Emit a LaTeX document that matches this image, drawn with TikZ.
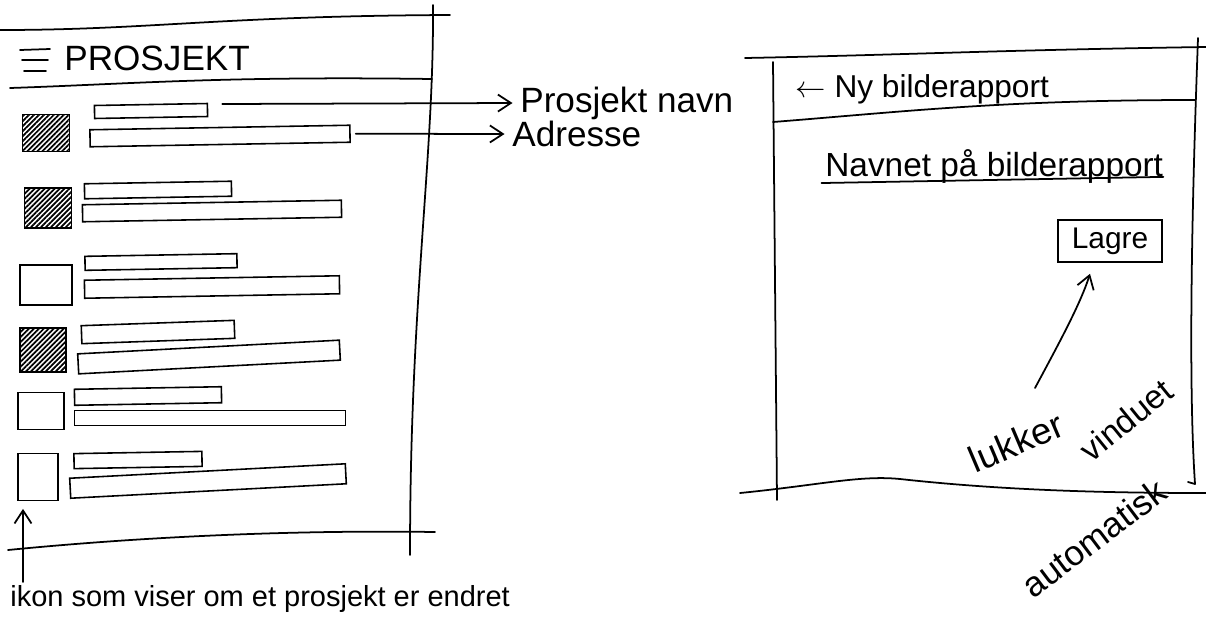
\documentclass[tikz,border=0pt]{standalone}
\usepackage{fontspec}
\setmainfont{Liberation Sans}
\usetikzlibrary{arrows.meta,patterns.meta,calc}

\tikzset{
  strek/.style={line width=1pt, line cap=round, line join=round},
  ikon/.style={draw, line width=1pt, inner sep=0pt},
  fylt/.style={ikon, pattern={Lines[angle=45,distance=2pt,line width=1pt]}},
  felt/.style={draw, line width=0.9pt, inner sep=0pt},
  skrift/.style={inner sep=0pt, font=\fontsize{20}{22}\selectfont},
  pil/.style={strek, -{Straight Barb[length=2.6mm,width=3.4mm]}}
}

\begin{document}
\begin{tikzpicture}[x=0.02cm, y=-0.02cm]
  \useasboundingbox (0,0) rectangle (1206,616);

  %venstre skjerm
  \draw[strek] (0,30) .. controls (150,30) and (220,16) .. (450,15);
  \draw[strek] (10,88) .. controls (130,84) and (220,76) .. (432,79);
  \draw[strek] (433,5) .. controls (434,160) and (410,300) .. (410,555);
  \draw[strek] (8,550) .. controls (150,536) and (300,530) .. (435,532);
  \draw[strek] (20,50) -- (50,49) (22,60) -- (48,60) (24,71) -- (46,71);
  \node[skrift, anchor=base west] (prosjekt) at (64,70) {PROSJEKT};

  %rad 1
  \node[fylt, minimum width=0.94cm, minimum height=0.74cm] (ikon1) at (46,133) {};
  \node[felt, minimum width=2.26cm, minimum height=0.26cm, rotate=1] (kort1) at (151,111) {};
  \node[felt, minimum width=5.2cm, minimum height=0.34cm, rotate=1] (lang1) at (220,136) {};
  %rad 2
  \node[fylt, minimum width=0.94cm, minimum height=0.8cm] (ikon2) at (48,208) {};
  \node[felt, minimum width=2.94cm, minimum height=0.3cm, rotate=1] (kort2) at (158,190) {};
  \node[felt, minimum width=5.18cm, minimum height=0.34cm, rotate=1] (lang2) at (212,211) {};
  %rad 3
  \node[ikon, minimum width=1.04cm, minimum height=0.8cm] (ikon3) at (46,285) {};
  \node[felt, minimum width=3.04cm, minimum height=0.28cm, rotate=1] (kort3) at (161,262) {};
  \node[felt, minimum width=5.1cm, minimum height=0.36cm, rotate=1] (lang3) at (212,287) {};
  %rad 4
  \node[fylt, minimum width=0.92cm, minimum height=0.88cm] (ikon4) at (43,350) {};
  \node[felt, minimum width=3.06cm, minimum height=0.36cm, rotate=2] (kort4) at (158,332) {};
  \node[felt, minimum width=5.24cm, minimum height=0.4cm, rotate=3] (lang4) at (209,357) {};
  %rad 5
  \node[ikon, minimum width=0.92cm, minimum height=0.74cm] (ikon5) at (41,411) {};
  \node[felt, minimum width=2.94cm, minimum height=0.32cm, rotate=1] (kort5) at (148,396) {};
  \node[felt, minimum width=5.42cm, minimum height=0.3cm] (lang5) at (210,418) {};
  %rad 6
  \node[ikon, minimum width=0.8cm, minimum height=0.94cm] (ikon6) at (38,477) {};
  \node[felt, minimum width=2.56cm, minimum height=0.3cm, rotate=1] (kort6) at (138,460) {};
  \node[felt, minimum width=5.52cm, minimum height=0.4cm, rotate=3] (lang6) at (208,481) {};

  %forklaringer
  \node[skrift, anchor=west] (navn) at (520,103) {Prosjekt navn};
  \node[skrift, anchor=west] (adresse) at (512,134) {Adresse};
  \draw[pil] ([xshift=0.28cm,yshift=0.12cm]kort1.east) -- ([xshift=-0.15cm]navn.west);
  \draw[pil] ([xshift=0.1cm]lang1.east) -- ([xshift=-0.15cm]adresse.west);

  \node[skrift, anchor=base west, font=\fontsize{16.5}{18}\selectfont] (endret) at (10,606)
    {ikon som viser om et prosjekt er endret};
  \coordinate (ikonfot) at (23,582);
  \draw[pil, shorten >=0.15cm] (ikonfot) -- (ikonfot |- ikon6.south);

  %hoyre skjerm
  \draw[strek] (745,58) .. controls (900,55) and (1000,50) .. (1206,47);
  \draw[strek] (773,62) -- (777,500);
  \draw[strek] (1198,38) .. controls (1192,200) and (1188,380) .. (1195,484) -- (1188,482);
  \draw[strek] (773,122) .. controls (900,112) and (1000,100) .. (1195,100);
  \draw[strek] (740,493) .. controls (820,485) and (860,475) .. (900,479)
               .. controls (1000,490) and (1100,493) .. (1206,493);

  \node[skrift, anchor=base west, font=\fontsize{18}{20}\selectfont] (tittel) at (795,97)
    {$\leftarrow$ Ny bilderapport};
  \node[skrift, anchor=base west, font=\fontsize{19}{21}\selectfont] (rapportnavn) at (825,176)
    {Navnet på bilderapport};
  \draw[strek] ([xshift=-2pt,yshift=-4pt]rapportnavn.base west) -- ([yshift=-0.5pt]rapportnavn.base east);

  \node[felt, skrift, font=\fontsize{17}{19}\selectfont, minimum width=2.08cm, minimum height=0.84cm]
    (lagre) at (1110,241) {Lagre};

  \node[skrift, font=\fontsize{21}{23}\selectfont, rotate=23] (lukker) at (1016,442) {lukker};
  \node[skrift, font=\fontsize{19}{21}\selectfont, rotate=39] (vinduet) at (1126,420) {vinduet};
  \node[skrift, font=\fontsize{20}{22}\selectfont, rotate=37] (automatisk) at (1094,538) {automatisk};

  \coordinate (lukkstart) at (1035,388);
  \draw[pil] (lukkstart) .. controls (1058,345) and (1080,305) .. ([xshift=-0.4cm,yshift=-0.22cm]lagre.south);
\end{tikzpicture}
\end{document}
